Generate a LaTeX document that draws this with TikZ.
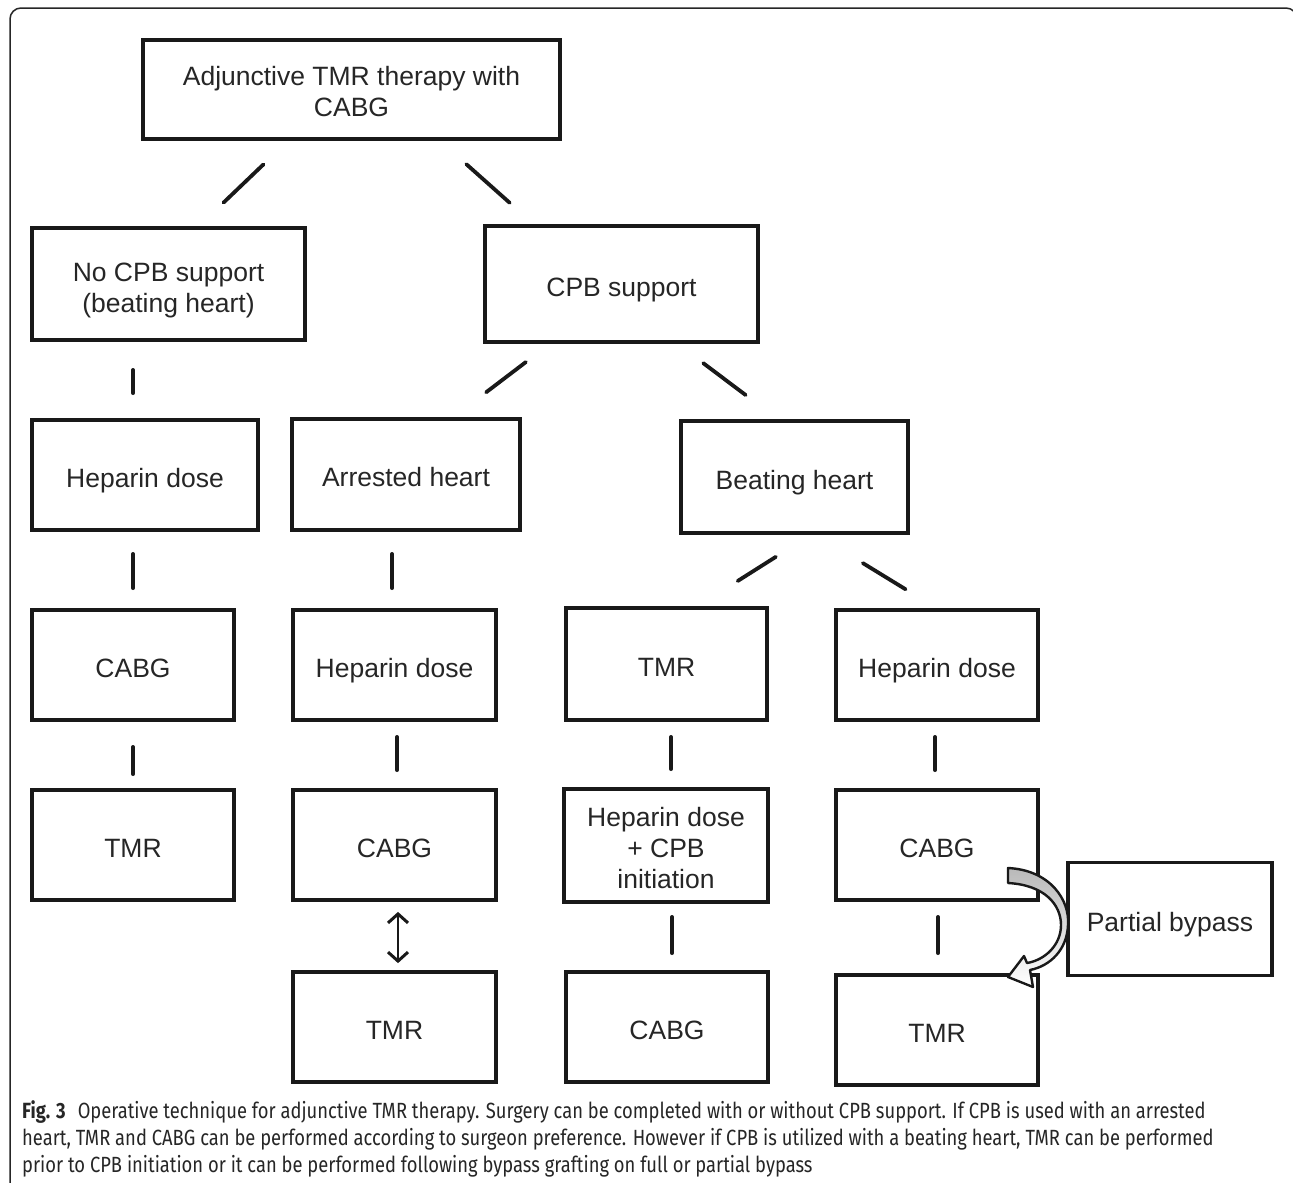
\documentclass[tikz,border=0pt]{standalone}
\usepackage{fontspec}
\setmainfont{Liberation Sans}
\newfontfamily\capfont[FakeStretch=0.835]{Fira Sans}
\usetikzlibrary{arrows.meta}
\begin{document}
\begin{tikzpicture}[x=1pt,y=-1pt,
  bx/.style={draw=black!90, line width=3.8pt, inner sep=0pt, align=center,
    font=\fontsize{26.5}{31}\selectfont, text=black!85},
  one/.style={bx, text height=24pt, text depth=0pt},
  conn/.style={draw=black!90, line width=3.8pt, line cap=round},
  captxt/.style={anchor=base west, inner sep=0pt, text=black!85,
    font=\capfont\fontsize{22}{27}\selectfont},
  dblarrow/.style={draw=black!90, line width=2pt,
    {Straight Barb[length=9pt,width=20pt,line width=3pt]}-{Straight Barb[length=9pt,width=20pt,line width=3pt]}}
]
\useasboundingbox (0,0) rectangle (1293,1183);
\fill[white] (0,0) rectangle (1293,1183);
% frame
\draw[line width=1.5pt, rounded corners=11pt, black!85] (10,1190) -- (10,8) -- (1297,8) -- (1297,40);

% boxes
\node[bx, text height=54pt, text depth=0pt, minimum width=417pt, minimum height=99pt] (top) at (351.5,89.5) {Adjunctive TMR therapy with\\CABG};
\node[bx, text height=57pt, text depth=0pt, minimum width=273pt, minimum height=112pt] (nocpb) at (168.5,284) {No CPB support\\(beating heart)};
\node[one, minimum width=273pt, minimum height=116pt] (cpb) at (621.5,284) {CPB support};
\node[one, minimum width=226pt, minimum height=110pt] (hepA) at (145,475) {Heparin dose};
\node[one, minimum width=228pt, minimum height=111pt] (arr) at (406,474.5) {Arrested heart};
\node[one, minimum width=227pt, minimum height=112pt] (beat) at (794.5,477) {Beating heart};
\node[one, minimum width=202pt, minimum height=110pt] (cabgA) at (133,665) {CABG};
\node[one, minimum width=203pt, minimum height=110pt] (hepB) at (394.5,665) {Heparin dose};
\node[one, minimum width=201pt, minimum height=112pt] (tmrC) at (666.5,664) {TMR};
\node[one, minimum width=202pt, minimum height=110pt] (hepD) at (937,665) {Heparin dose};
\node[one, minimum width=202pt, minimum height=110pt] (tmrA) at (133,845) {TMR};
\node[one, minimum width=203pt, minimum height=110pt] (cabgB) at (394.5,845) {CABG};
\node[bx, text height=85pt, text depth=0pt, minimum width=204pt, minimum height=113pt] (hepC) at (666,845.5) {Heparin dose\\+ CPB\\initiation};
\node[one, minimum width=202pt, minimum height=110pt] (cabgD) at (937,845) {CABG};
\node[one, minimum width=203pt, minimum height=110pt] (tmrB) at (394.5,1027) {TMR};
\node[one, minimum width=202pt, minimum height=110pt] (cabgC) at (667,1027) {CABG};
\node[one, minimum width=202pt, minimum height=110pt] (tmrD) at (937,1030) {TMR};
\node[one, minimum width=204pt, minimum height=113pt] (part) at (1170,919) {Partial bypass};

% connectors
\draw[conn, shorten <=34pt, shorten >=34pt] (288,0 |- top.south) -- (199,0 |- nocpb.north);
\draw[conn, shorten <=35pt, shorten >=32pt] (440.2,0 |- top.south) -- (533.6,0 |- cpb.north);
\draw[conn, shorten <=28pt, shorten >=25pt] (133,0 |- nocpb.south) -- (133,0 |- hepA.north);
\draw[conn, shorten <=30pt, shorten >=41pt] (549.75,0 |- cpb.south) -- (453.5,0 |- arr.north);
\draw[conn, shorten <=32pt, shorten >=40pt] (677.7,0 |- cpb.south) -- (777.6,0 |- beat.north);
\draw[conn, shorten <=22pt, shorten >=20pt] (133,0 |- hepA.south) -- (133,0 |- cabgA.north);
\draw[conn, shorten <=22pt, shorten >=20pt] (392,0 |- arr.south) -- (392,0 |- hepB.north);
\draw[conn, shorten <=41pt, shorten >=47pt] (810.5,0 |- beat.south) -- (698,0 |- tmrC.north);
\draw[conn, shorten <=54pt, shorten >=36pt] (816.8,0 |- beat.south) -- (936.3,0 |- hepD.north);
\draw[conn, shorten <=25pt, shorten >=14pt] (133,0 |- cabgA.south) -- (133,0 |- tmrA.north);
\draw[conn, shorten <=15pt, shorten >=18pt] (397,0 |- hepB.south) -- (397,0 |- cabgB.north);
\draw[conn, shorten <=15pt, shorten >=18pt] (671,0 |- tmrC.south) -- (671,0 |- hepC.north);
\draw[conn, shorten <=15pt, shorten >=18pt] (935,0 |- hepD.south) -- (935,0 |- cabgD.north);
\draw[dblarrow, shorten <=10pt, shorten >=7pt] (398,0 |- cabgB.south) -- (398,0 |- tmrB.north);
\draw[conn, shorten <=13pt, shorten >=17pt] (672,0 |- hepC.south) -- (672,0 |- cabgC.north);
\draw[conn, shorten <=15pt, shorten >=20pt] (938,0 |- cabgD.south) -- (938,0 |- tmrD.north);

% curved band arrow (CABG -> TMR via partial bypass)
\draw[line width=2.4pt, black!90, line join=round, top color=gray!55, bottom color=white, shading angle=0]
  (1008,868) .. controls (1050,870) and (1070,900) .. (1068,925)
  .. controls (1067,950) and (1050,966) .. (1030,970)
  -- (1033,987) -- (1008,977) -- (1024,956) -- (1027,963)
  .. controls (1045,960) and (1061,945) .. (1061,925)
  .. controls (1061,905) and (1045,885) .. (1008,883) -- cycle;

% caption
\node[captxt] (cap1) at (22,1118) {\textbf{Fig. 3}\hspace{0.55em}Operative technique for adjunctive TMR therapy. Surgery can be completed with or without CPB support. If CPB is used with an arrested};
\node[captxt] (cap2) at (22,1145) {heart, TMR and CABG can be performed according to surgeon preference. However if CPB is utilized with a beating heart, TMR can be performed};
\node[captxt] (cap3) at (22,1172) {prior to CPB initiation or it can be performed following bypass grafting on full or partial bypass};
\end{tikzpicture}
\end{document}
